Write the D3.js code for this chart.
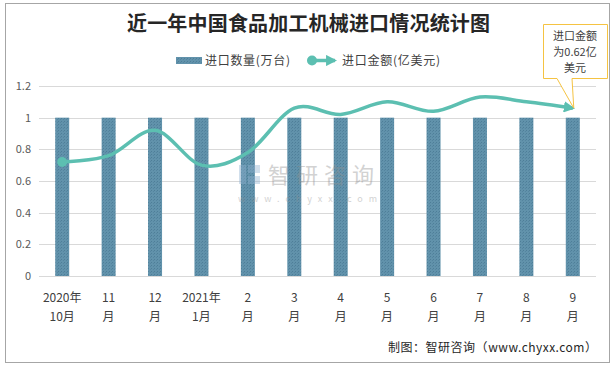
<!DOCTYPE html>
<html><head><meta charset="utf-8">
<script src="https://cdn.jsdelivr.net/npm/d3@7"></script>
<style>body{margin:0;background:#fff}svg{display:block}text{font-family:"Noto Sans CJK SC","Microsoft YaHei",sans-serif}</style>
</head><body><svg id="c" width="616" height="369"></svg>
<script>
const categories = ["2020年|10月","11|月","12|月","2021年|1月","2|月","3|月","4|月","5|月","6|月","7|月","8|月","9|月"];
const quantity = [1,1,1,1,1,1,1,1,1,1,1,1];
const amount = [0.72,0.76,0.92,0.70,0.78,1.06,1.02,1.10,1.04,1.13,1.10,1.06];
const yTicks = [0,0.2,0.4,0.6,0.8,1,1.2];

const svg = d3.select("#c");
const defs = svg.append("defs");
const pat = defs.append("pattern").attr("id","dots").attr("width",3).attr("height",3).attr("patternUnits","userSpaceOnUse");
pat.append("rect").attr("width",3).attr("height",3).attr("fill","#6192ab");
pat.append("rect").attr("x",1).attr("y",1).attr("width",1).attr("height",1).attr("fill","#4e7e98");
pat.append("rect").attr("x",0).attr("y",2).attr("width",1).attr("height",1).attr("fill","#5585a0");
defs.append("marker").attr("id","arr").attr("viewBox","0 0 10 10").attr("refX",8).attr("refY",5)
  .attr("markerWidth",3.2).attr("markerHeight",3.2).attr("orient","auto").attr("markerUnits","strokeWidth")
  .append("path").attr("d","M0,0L10,5L0,10z").attr("fill","#5cbfb1");

// frame
svg.append("rect").attr("x",5.5).attr("y",3.5).attr("width",604).attr("height",359).attr("fill","#fff").attr("stroke","#a6a6a6");

const x = d3.scaleBand().domain(categories).range([39,596]);
const y = d3.scaleLinear().domain([0,1.2]).range([276,86]);

// grid
svg.append("g").selectAll("line").data(yTicks).join("line")
  .attr("x1",39).attr("x2",596).attr("y1",d=>Math.round(y(d))+0.5).attr("y2",d=>Math.round(y(d))+0.5)
  .attr("stroke","#d9d9d9").attr("stroke-width",1);

// y axis labels
const yAxis = d3.axisLeft(y).tickValues(yTicks).tickSize(0).tickPadding(8).tickFormat(d=>d);
const ga = svg.append("g").attr("transform","translate(39,0)").call(yAxis);
ga.select(".domain").remove();
ga.selectAll("text").attr("font-size",11).attr("fill","#595959").style("font-family","'Noto Sans CJK SC',sans-serif");

// bars
const bw = 14;
svg.append("g").selectAll("rect").data(quantity).join("rect")
  .attr("x",(d,i)=>x(categories[i])+x.bandwidth()/2-bw/2).attr("width",bw)
  .attr("y",d=>y(d)).attr("height",d=>y(0)-y(d)).attr("fill","url(#dots)");

// watermark
const wm = svg.append("g").attr("opacity",0.4);
wm.append("rect").attr("x",239).attr("y",165).attr("width",7).attr("height",19).attr("fill","#8fb0d0");
wm.append("rect").attr("x",248).attr("y",165).attr("width",12).attr("height",8).attr("fill","#8fb0d0");
wm.append("rect").attr("x",248).attr("y",176).attr("width",12).attr("height",8).attr("fill","#8fb0d0");
wm.append("text").attr("x",268).attr("y",183).attr("font-size",22).attr("letter-spacing",6).attr("fill","#909090").text("智研咨询");
wm.append("text").attr("x",238).attr("y",202).attr("font-size",9).attr("fill","#909090").attr("textLength",139).attr("lengthAdjust","spacing").text("www.chyxx.com");

// line
const pts = amount.map((v,i)=>[x(categories[i])+x.bandwidth()/2, y(v)]);
svg.append("path").attr("d",d3.line().curve(d3.curveCardinal.tension(0))(pts))
  .attr("fill","none").attr("stroke","#5cbfb1").attr("stroke-width",3.5).attr("marker-end","url(#arr)");
svg.append("circle").attr("cx",pts[0][0]).attr("cy",pts[0][1]).attr("r",5).attr("fill","#5cbfb1");

// x labels
const xl = svg.append("g");
categories.forEach(c=>{
  const [a,b] = c.split("|");
  const cx = x(c)+x.bandwidth()/2;
  xl.append("text").attr("x",cx).attr("y",302).attr("text-anchor","middle").attr("font-size",12).attr("fill","#404040").text(a);
  xl.append("text").attr("x",cx).attr("y",321).attr("text-anchor","middle").attr("font-size",12).attr("fill","#404040").text(b);
});

// title
svg.append("text").attr("x",127).attr("y",31).attr("font-size",20).attr("font-weight","bold").attr("fill","#262626")
  .attr("textLength",363).attr("lengthAdjust","spacing").text("近一年中国食品加工机械进口情况统计图");

// legend
svg.append("rect").attr("x",176).attr("y",57).attr("width",26).attr("height",7).attr("fill","url(#dots)");
svg.append("text").attr("x",205).attr("y",65).attr("font-size",12).attr("fill","#404040")
  .attr("textLength",85).attr("lengthAdjust","spacing").text("进口数量(万台)");
svg.append("line").attr("x1",310).attr("x2",335).attr("y1",60.5).attr("y2",60.5).attr("stroke","#5cbfb1").attr("stroke-width",3.5).attr("marker-end","url(#arr)");
svg.append("circle").attr("cx",312).attr("cy",60.5).attr("r",5).attr("fill","#5cbfb1");
svg.append("text").attr("x",342).attr("y",65).attr("font-size",12).attr("fill","#404040")
  .attr("textLength",98).attr("lengthAdjust","spacing").text("进口金额(亿美元)");

// callout
const last = pts[pts.length-1];
svg.append("path").attr("d",`M543.5,24.5H607.5V78.5H572L${last[0]+1},${last[1]}L557,78.5H543.5Z`)
  .attr("fill","#fff").attr("stroke","#f5c342").attr("stroke-width",1);
["进口金额","为0.62亿","美元"].forEach((t,i)=>{
  svg.append("text").attr("x",575).attr("y",40+i*16).attr("text-anchor","middle").attr("font-size",11).attr("fill","#404040").text(t);
});

// footer
svg.append("text").attr("x",388).attr("y",352).attr("font-size",12).attr("fill","#262626")
  .attr("textLength",209).attr("lengthAdjust","spacing").text("制图：智研咨询（www.chyxx.com）");
</script></body></html>
